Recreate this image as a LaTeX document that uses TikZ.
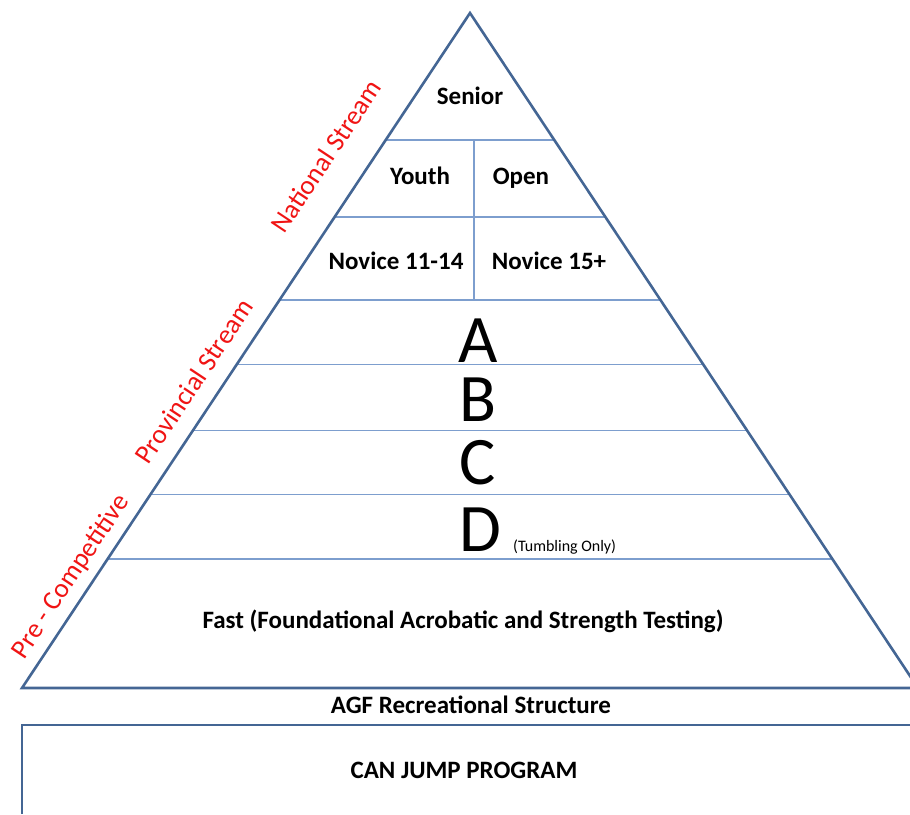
\documentclass[tikz,border=0pt]{standalone}
\usepackage{fontspec}
\setmainfont{Carlito}
\usetikzlibrary{calc}
\definecolor{edgeblue}{RGB}{68,102,148}
\definecolor{rowblue}{RGB}{125,158,206}
\definecolor{streamred}{RGB}{240,20,20}

\begin{document}
\begin{tikzpicture}[x=1pt,y=-1pt]
    \useasboundingbox (0,0) rectangle (910,814);
    \clip (0,0) rectangle (910,814);

    \coordinate (apex) at (470,13);
    \coordinate (bl) at (22,688);
    \coordinate (br) at (918,688);

    % levels of the pyramid
    \begin{scope}[draw=rowblue, line width=1.3pt]
        \foreach \t in {0.188,0.302,0.425,0.521,0.618,0.713,0.809}{
            \draw ($(apex)!\t!(bl)$) -- ($(apex)!\t!(br)$);
        }
        \draw (474,140) -- (474,300);
    \end{scope}

    \draw[edgeblue, line width=2.6pt, line join=miter] (bl) -- (apex) -- (br) -- cycle;
    \draw[edgeblue, line width=2.6pt] (22,814) -- (22,725) -- (920,725);

    \begin{scope}[every node/.style={anchor=base, font=\fontsize{25}{28}\selectfont\bfseries}]
        \node (senior) at (470,104) {Senior};
        \node (youth) at (420,184) {Youth};
        \node (open) at (521,184) {Open};
        \node (nov1) at (396,269) {Novice 11-14};
        \node (nov2) at (549,269) {Novice 15+};
        \node (fast) at (463,628) {Fast (Foundational Acrobatic and Strength Testing)};
        \node (agf) at (471,713) {AGF Recreational Structure};
        \node (canjump) at (464,778) {CAN JUMP PROGRAM};
    \end{scope}

    \begin{scope}[every node/.style={anchor=base, font=\fontsize{68}{70}\selectfont}]
        \node (A) at (478,362) {A};
        \node (B) at (478,421) {B};
        \node (C) at (478,484) {C};
        \node (D) at (480,551) {D};
    \end{scope}
    \node[font=\fontsize{16}{18}\selectfont, anchor=base west, inner sep=0pt] (tumb) at (513,551) {(Tumbling Only)};

    \begin{scope}[every node/.style={text=streamred, rotate=56.4, font=\fontsize{27}{30}\selectfont}]
        \node (national) at (326,156) {National Stream};
        \node (provincial) at (194,381) {Provincial Stream};
        \node (precomp) at (71,577) {Pre - Competitive};
    \end{scope}
\end{tikzpicture}
\end{document}
